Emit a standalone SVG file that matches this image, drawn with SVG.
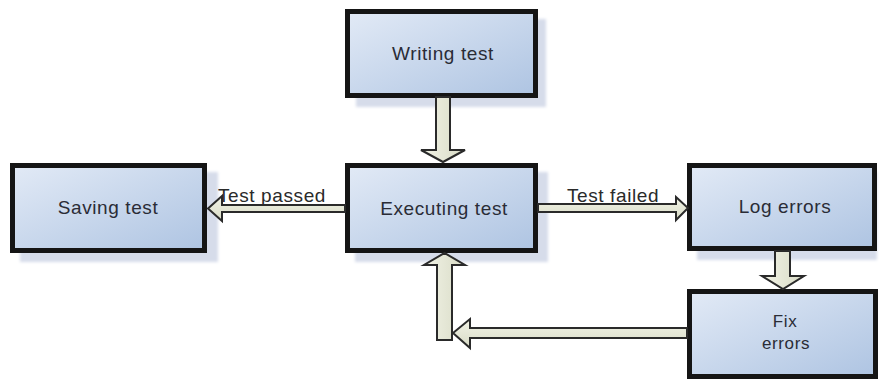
<svg xmlns="http://www.w3.org/2000/svg" width="881" height="381" viewBox="0 0 881 381">
  <defs>
    <linearGradient id="boxFill" x1="0" y1="0" x2="1" y2="1">
      <stop offset="0" stop-color="#e2eaf6"/>
      <stop offset="1" stop-color="#aec4e2"/>
    </linearGradient>
    <linearGradient id="arrowFillH" x1="0" y1="0" x2="0" y2="1">
      <stop offset="0" stop-color="#f2f3e6"/>
      <stop offset="1" stop-color="#d8dbc6"/>
    </linearGradient>
    <linearGradient id="arrowFillV" x1="0" y1="0" x2="1" y2="0">
      <stop offset="0" stop-color="#f2f3e6"/>
      <stop offset="1" stop-color="#d8dbc6"/>
    </linearGradient>
    <filter id="soft" x="-10%" y="-10%" width="120%" height="120%">
      <feGaussianBlur stdDeviation="1.5"/>
    </filter>
  </defs>
  <style>
    .shadow { fill: #d6dcea; filter: url(#soft); }
    .box { fill: url(#boxFill); stroke: #151515; stroke-width: 5; }
    .label { font-family: "Liberation Sans", Arial, sans-serif; font-size: 19px; letter-spacing: 0.6px; fill: #2a2c36; text-anchor: middle; }
    .label-sm { font-family: "Liberation Sans", Arial, sans-serif; font-size: 17px; letter-spacing: 0.6px; fill: #2a2c36; text-anchor: middle; }
    .edge-label { font-family: "Liberation Sans", Arial, sans-serif; font-size: 19px; letter-spacing: 0.6px; fill: #2a2a2a; }
    .arrow-h { fill: url(#arrowFillH); stroke: #2a2a2a; stroke-width: 2; stroke-linejoin: miter; }
    .arrow-v { fill: url(#arrowFillV); stroke: #2a2a2a; stroke-width: 2; stroke-linejoin: miter; }
  </style>

  <rect width="881" height="381" fill="#ffffff"/>

  <!-- process steps -->
  <g id="writing-test">
    <rect class="shadow" x="356" y="19" width="190" height="88"/>
    <rect class="box" x="347.5" y="11.5" width="188" height="84"/>
    <text class="label" x="443" y="60">Writing test</text>
  </g>

  <g id="saving-test">
    <rect class="shadow" x="20" y="172" width="198" height="90"/>
    <rect class="box" x="12.5" y="165.5" width="192" height="85"/>
    <text class="label" x="108" y="214">Saving test</text>
  </g>

  <g id="executing-test">
    <rect class="shadow" x="355" y="172" width="193" height="90"/>
    <rect class="box" x="347.5" y="165.5" width="188" height="85"/>
    <text class="label" x="444" y="215">Executing test</text>
  </g>

  <g id="log-errors">
    <rect class="shadow" x="697" y="172" width="180" height="88"/>
    <rect class="box" x="689.5" y="165.5" width="185" height="83"/>
    <text class="label" x="785" y="213">Log errors</text>
  </g>

  <g id="fix-errors">
    <rect class="box" x="689.5" y="291.5" width="186" height="85"/>
    <text class="label-sm" x="785" y="327">Fix</text>
    <text class="label-sm" x="786" y="349">errors</text>
  </g>

  <!-- block arrows between steps -->
  <g id="connectors">
    <!-- Writing test -> Executing test -->
    <path class="arrow-v" d="M436,97 L450,97 L450,150 L465,150 L443,162 L421,150 L436,150 Z"/>
    <!-- Executing test -> Saving test -->
    <path class="arrow-h" d="M345,205 L222,205 L222,196 L208,208.5 L222,221 L222,212 L345,212 Z"/>
    <!-- Executing test -> Log errors -->
    <path class="arrow-h" d="M538,204 L676,204 L676,197 L688,208 L676,220 L676,212 L538,212 Z"/>
    <!-- Log errors -> Fix errors -->
    <path class="arrow-v" d="M775,251 L790,251 L790,276 L804,276 L783,289 L762,276 L775,276 Z"/>
    <!-- Fix errors -> back to Executing test -->
    <path class="arrow-h" d="M687,328 L470,328 L470,319 L453,333 L470,348 L470,338 L687,338 Z"/>
    <path class="arrow-v" d="M437,340 L437,265 L424,265 L444.5,253 L465,265 L452,265 L452,340 Z"/>

    <text class="edge-label" x="218" y="202">Test passed</text>
    <text class="edge-label" x="567" y="202">Test failed</text>
  </g>
</svg>
